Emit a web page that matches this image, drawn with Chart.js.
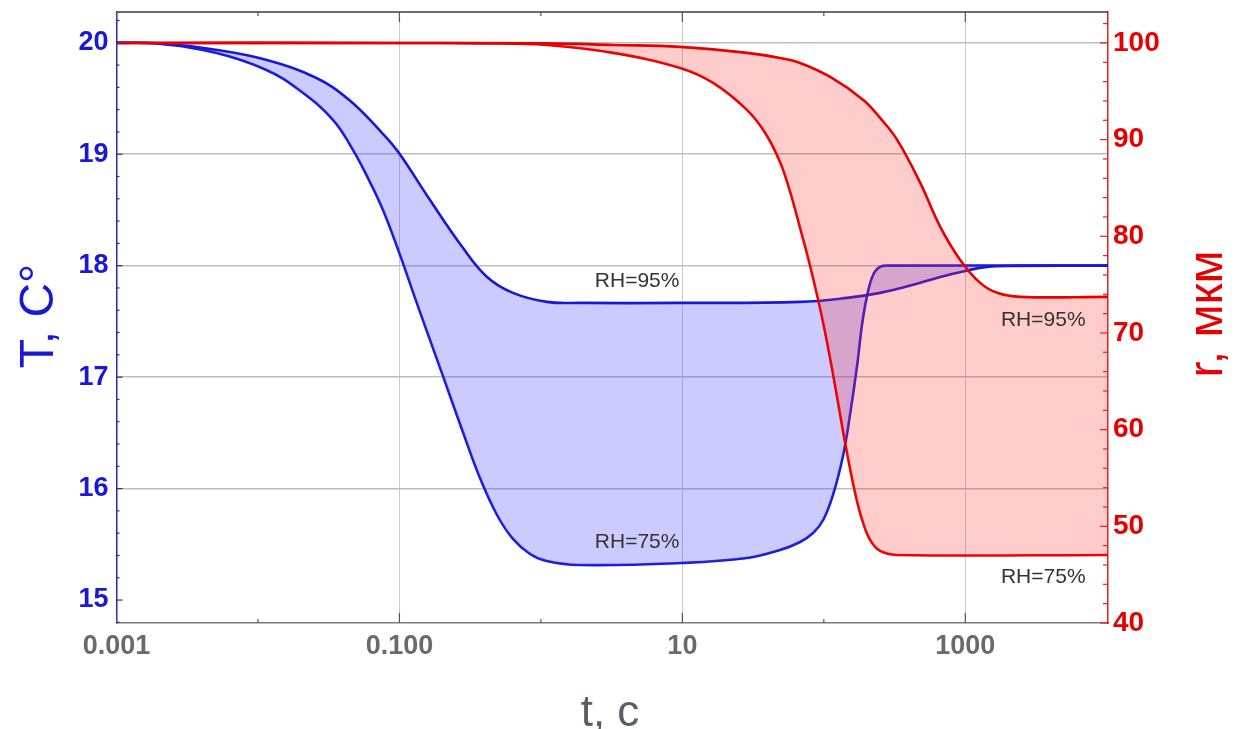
<!DOCTYPE html>
<html>
<head>
<meta charset="utf-8">
<script src="https://cdn.jsdelivr.net/npm/chart.js@4.4.1/dist/chart.umd.min.js"></script>
<style>
  html, body { margin: 0; padding: 0; background: #fff; }
  #wrap { width: 1240px; height: 729px; position: relative; }
</style>
</head>
<body>
<div id="wrap"><canvas id="grafico"></canvas></div>
<script>
// temperatura da gota, RH=95%
const tempoT95 = [0.001, 0.00199, 0.00503, 0.01138, 0.0257, 0.044, 0.0764, 0.099, 0.164, 0.281, 0.416, 0.635, 1.10, 1.89, 9.64, 68, 146, 250, 429, 665, 1000, 1430, 2183, 10200];
const valT95   = [20.0, 19.995, 19.937, 19.847, 19.686, 19.488, 19.183, 19.013, 18.591, 18.160, 17.899, 17.756, 17.675, 17.666, 17.666, 17.675, 17.711, 17.756, 17.828, 17.899, 17.953, 17.989, 17.998, 18.0];

// temperatura da gota, RH=75%
const tempoT75 = [0.001, 0.00199, 0.00503, 0.01138, 0.01945, 0.0339, 0.0469, 0.0598, 0.0764, 0.1009, 0.1245, 0.156, 0.203, 0.281, 0.371, 0.490, 0.635, 0.838, 1.10, 1.89, 9.64, 28.6, 49.0, 67.9, 83.9, 98.9, 116, 137, 153, 172, 186, 202, 223, 250, 294, 10200];
const valT75   = [20.0, 19.991, 19.910, 19.758, 19.578, 19.309, 19.039, 18.788, 18.501, 18.097, 17.765, 17.415, 17.011, 16.508, 16.095, 15.763, 15.548, 15.413, 15.350, 15.314, 15.332, 15.377, 15.449, 15.521, 15.601, 15.718, 15.943, 16.302, 16.661, 17.109, 17.469, 17.729, 17.917, 17.989, 18.0, 18.0];

// raio da gota, RH=95%
const tempoR95 = [0.001, 0.099, 1.10, 3.24, 9.64, 28.6, 49.0, 67.9, 111, 190, 250, 330, 480, 665, 920, 1274, 1680, 2445, 10200];
const valR95   = [100, 100, 99.95, 99.79, 99.59, 98.97, 98.45, 97.93, 96.48, 94.11, 92.24, 89.97, 85.52, 80.97, 77.56, 75.18, 74.15, 73.73, 73.73];

// raio da gota, RH=75%
const tempoR75 = [0.001, 0.099, 0.371, 1.10, 3.24, 9.64, 16.5, 28.6, 38.5, 49.0, 57.8, 67.9, 80.0, 97.3, 116.4, 141.5, 166.4, 186.6, 212.4, 250, 330, 10200];
const valR75   = [100, 100, 99.95, 99.79, 98.97, 97.41, 95.86, 93.07, 90.69, 87.69, 84.59, 80.86, 76.93, 71.55, 65.66, 58.62, 53.45, 50.66, 48.59, 47.45, 47.04, 47.04];

// eixos
const xTicks = [0.001, 0.1, 10, 1000];
const xTickLabels = ["0.001", "0.100", "10", "1000"];
const xMinorTicks = [0.01, 1, 100];
const tTicks = [15, 16, 17, 18, 19, 20];
const rTicks = [40, 50, 60, 70, 80, 90, 100];

// rótulos das curvas
const rotuloTextos = ["RH=95%", "RH=75%", "RH=95%", "RH=75%"];
const rotuloTempo  = [4.79, 4.79, 3556, 3556];
const rotuloValor  = [17.864, 15.521, 71.36, 44.78];
const rotuloEixo   = ["y", "y", "yR", "yR"];

const fonte = '"Liberation Sans", Arial, sans-serif';
const azul = "#1818d8";
const vermelho = "#e60000";

function pontos(ts, vs) {
  return ts.map((t, i) => ({ x: t, y: vs[i] }));
}

// marcas dos eixos, moldura de cima, títulos e rótulos
const molduraPlugin = {
  id: "moldura",
  afterDraw(chart) {
    const { ctx, chartArea: a, scales } = chart;
    const sx = scales.x, sy = scales.y, sr = scales.yR;

    function linha(x1, y1, x2, y2) {
      ctx.beginPath();
      ctx.moveTo(x1, y1);
      ctx.lineTo(x2, y2);
      ctx.stroke();
    }

    ctx.save();
    ctx.strokeStyle = "#3c3c3c";
    ctx.lineWidth = 1.5;
    linha(a.left, a.top, a.right, a.top);

    // eixo x
    ctx.strokeStyle = "#555";
    ctx.lineWidth = 1.2;
    xTicks.forEach((t) => {
      const px = sx.getPixelForValue(t);
      linha(px, a.bottom, px, a.bottom - 10);
      linha(px, a.top, px, a.top + 10);
    });
    xMinorTicks.forEach((t) => {
      const px = sx.getPixelForValue(t);
      linha(px, a.bottom, px, a.bottom - 4);
      linha(px, a.top, px, a.top + 4);
    });

    // eixo T
    ctx.strokeStyle = "#2a2ab0";
    for (let k = 74; k <= 101; k++) {
      const v = k / 5;
      const py = sy.getPixelForValue(v);
      if (py < a.top || py > a.bottom) continue;
      const major = k % 5 === 0;
      linha(a.left, py, a.left + (major ? 6 : 3), py);
    }

    // eixo r
    ctx.strokeStyle = "#e02020";
    for (let v = 40; v <= 102; v += 2) {
      const py = sr.getPixelForValue(v);
      if (py < a.top || py > a.bottom + 1) continue;
      const major = v % 10 === 0;
      linha(a.right, py, a.right - (major ? 8 : 5), py);
    }

    // títulos
    ctx.textAlign = "center";
    ctx.textBaseline = "alphabetic";
    ctx.font = "48px " + fonte;
    ctx.fillStyle = azul;
    ctx.save();
    ctx.translate(53, 316);
    ctx.rotate(-Math.PI / 2);
    ctx.fillText("T, C°", 0, 0);
    ctx.restore();

    ctx.fillStyle = vermelho;
    ctx.save();
    ctx.translate(1222, 314);
    ctx.rotate(-Math.PI / 2);
    ctx.fillText("r, мкм", 0, 0);
    ctx.restore();

    ctx.fillStyle = "#5a5f66";
    ctx.font = "44px " + fonte;
    ctx.fillText("t, c", 610, 726);

    // RH
    ctx.font = "21px " + fonte;
    ctx.fillStyle = "#333";
    ctx.textBaseline = "middle";
    rotuloTextos.forEach((txt, i) => {
      const esc = scales[rotuloEixo[i]];
      const px = sx.getPixelForValue(rotuloTempo[i]);
      const py = esc.getPixelForValue(rotuloValor[i]);
      ctx.fillText(txt, px, py);
    });
    ctx.restore();
  },
};

const curva = { pointRadius: 0, borderWidth: 2.6, tension: 0.4 };

new Chart(document.getElementById("grafico"), {
  type: "line",
  data: {
    datasets: [
      {
        ...curva,
        label: "r, RH=95%",
        data: pontos(tempoR95, valR95),
        yAxisID: "yR",
        borderColor: vermelho,
        backgroundColor: "rgba(255, 40, 40, 0.24)",
        fill: "+1",
      },
      {
        ...curva,
        label: "r, RH=75%",
        data: pontos(tempoR75, valR75),
        yAxisID: "yR",
        borderColor: vermelho,
        fill: false,
      },
      {
        ...curva,
        label: "T, RH=95%",
        data: pontos(tempoT95, valT95),
        yAxisID: "y",
        borderColor: azul,
        backgroundColor: "rgba(70, 70, 255, 0.28)",
        fill: "+1",
      },
      {
        ...curva,
        label: "T, RH=75%",
        data: pontos(tempoT75, valT75),
        yAxisID: "y",
        borderColor: azul,
        fill: false,
      },
    ],
  },
  options: {
    responsive: true,
    maintainAspectRatio: false,
    animation: false,
    layout: { padding: { top: 12, left: 0, right: 0, bottom: 0 } },
    plugins: {
      legend: { display: false },
      tooltip: { enabled: false },
    },
    scales: {
      x: {
        type: "logarithmic",
        min: 0.001,
        max: 10200,
        afterBuildTicks: (s) => { s.ticks = xTicks.map((v) => ({ value: v })); },
        afterFit: (s) => { s.height = 106; s.paddingLeft = 0; s.paddingRight = 0; },
        ticks: {
          autoSkip: false,
          maxRotation: 0,
          padding: 7,
          color: "#6a6a6a",
          font: { family: fonte, size: 27, weight: "bold" },
          callback: (v, i) => xTickLabels[i],
        },
        grid: { color: "#c9c9c9", lineWidth: 1, drawTicks: false },
        border: { color: "#7a7a7a", width: 1.5 },
      },
      y: {
        type: "linear",
        position: "left",
        min: 14.794,
        max: 20.276,
        afterBuildTicks: (s) => { s.ticks = tTicks.map((v) => ({ value: v })); },
        afterFit: (s) => { s.width = 116.5; s.paddingTop = 0; s.paddingBottom = 0; },
        ticks: {
          padding: 8,
          color: azul,
          font: { family: fonte, size: 27, weight: "bold" },
        },
        grid: {
          color: (c) => (c.tick && c.tick.value === 15 ? "rgba(0,0,0,0)" : "#bdbdbd"),
          lineWidth: 1.6,
          drawTicks: false,
        },
        border: { color: "#2a2ab0", width: 1.5 },
      },
      yR: {
        type: "linear",
        position: "right",
        min: 40,
        max: 103.2,
        afterBuildTicks: (s) => { s.ticks = rTicks.map((v) => ({ value: v })); },
        afterFit: (s) => { s.width = 132; s.paddingTop = 0; s.paddingBottom = 0; },
        ticks: {
          padding: 5,
          color: vermelho,
          font: { family: fonte, size: 28, weight: "bold" },
        },
        grid: { drawOnChartArea: false, drawTicks: false },
        border: { color: "#e02020", width: 1.5 },
      },
    },
  },
  plugins: [molduraPlugin],
});
</script>
</body>
</html>
